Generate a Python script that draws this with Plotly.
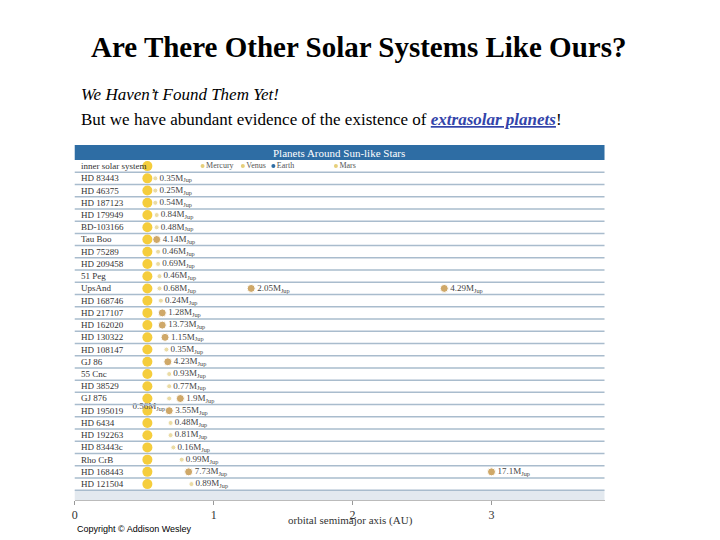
import plotly.graph_objects as go

stars = ["inner solar system","HD 83443","HD 46375","HD 187123","HD 179949","BD-103166","Tau Boo",
         "HD 75289","HD 209458","51 Peg","UpsAnd","HD 168746","HD 217107","HD 162020","HD 130322",
         "HD 108147","GJ 86","55 Cnc","HD 38529","GJ 876","HD 195019","HD 6434","HD 192263",
         "HD 83443c","Rho CrB","HD 168443","HD 121504"]
star_x = 0.523
p_row  = [1,2,3,4,5,6,7,8,9,10,10,10,11,12,13,14,15,16,17,18,19,19,20,21,22,23,24,25,25,26]
p_x    = [0.58,0.58,0.58,0.59,0.59,0.59,0.60,0.60,0.61,0.61,1.27,2.66,0.62,0.63,0.63,0.65,0.66,0.67,0.68,0.68,0.68,0.76,0.68,0.69,0.69,0.71,0.77,0.82,3.00,0.84]
p_mass = ["0.35","0.25","0.54","0.84","0.48","4.14","0.46","0.69","0.46","0.68","2.05","4.29","0.24","1.28",
          "13.73","1.15","0.35","4.23","0.93","0.77","0.56","1.9","3.55","0.48","0.81","0.16","0.99","7.73","17.1","0.89"]
p_heavy= [0,0,0,0,0,1,0,0,0,0,1,1,0,1,1,1,0,1,0,0,0,1,1,0,0,0,0,1,1,0]
inner_names = ["Mercury","Venus","Earth","Mars"]
inner_x = [0.92,1.21,1.43,1.88]
inner_col = ["#e6cf7a","#e6cf7a","#2e6da4","#e6cf7a"]
xticks = [0,1,2,3]

DX, DY = 11, 8
def px(x): return (x - DX) / 720
def py(y): return (540 - (y - DY)) / 540

fig = go.Figure()
n = len(stars)
for i in range(n):
    fig.add_shape(type="line", xref="paper", yref="y", x0=px(75), x1=px(607), y0=i+0.5, y1=i+0.5,
                  line=dict(color="#a9bccd", width=1.5))
fig.add_shape(type="rect", xref="paper", yref="y", x0=px(75), x1=px(607), y0=n-0.5, y1=n+0.3,
              fillcolor="#e3e9ef", line_width=0, layer="below")
fig.add_trace(go.Scatter(x=[star_x]*n, y=list(range(n)), mode="markers",
                         marker=dict(size=10, color="#f5cd3c"), hoverinfo="skip"))
fig.add_trace(go.Scatter(x=inner_x, y=[0]*4, mode="markers+text", text=inner_names, textposition="middle right",
                         marker=dict(size=4, color=inner_col), textfont=dict(family="Liberation Serif", size=8, color="#555")))
cols = ["#bb8429" if h else "#e2cc7e" for h in p_heavy]
sizes = [8 if h else 5 for h in p_heavy]
labels = [f"{m}M<sub>Jup</sub>" for m in p_mass]
pos = ["middle right"]*len(p_x)
pos[20] = "bottom left"
fig.add_trace(go.Scatter(x=p_x, y=p_row, mode="markers+text", text=labels, textposition=pos,
                         marker=dict(size=sizes, color=cols),
                         textfont=dict(family="Liberation Serif", size=9, color="#444")))
for i, s in enumerate(stars):
    fig.add_annotation(xref="paper", yref="y", x=px(79), y=i, text=s, showarrow=False,
                       xanchor="left", yanchor="middle", font=dict(family="Liberation Serif", size=9, color="#333"))
fig.add_shape(type="rect", xref="paper", yref="paper", x0=px(75), x1=px(607), y0=py(160), y1=py(145),
              fillcolor="#2e6da4", line_width=0)
fig.add_annotation(xref="paper", yref="paper", x=px(340), y=py(153), text="Planets Around Sun-like Stars",
                   xanchor="center", yanchor="middle",
                   showarrow=False, font=dict(family="Liberation Serif", size=11, color="white"))
fig.add_annotation(xref="paper", yref="paper", x=px(360), y=py(47), text="<b>Are There Other Solar Systems Like Ours?</b>",
                   xanchor="center", yanchor="middle",
                   showarrow=False, font=dict(family="Liberation Serif", size=29, color="black"))
fig.add_annotation(xref="paper", yref="paper", x=px(79), y=py(95), xanchor="left", yanchor="middle",
                   text="<i>We Haven’t Found Them Yet!</i>", showarrow=False,
                   font=dict(family="Liberation Serif", size=17, color="black"))
fig.add_annotation(xref="paper", yref="paper", x=px(79), y=py(119), xanchor="left", yanchor="middle",
                   text="But we have abundant evidence of the existence of <b><i><span style='color:#3344aa'><u>extrasolar planets</u></span></i></b>!",
                   showarrow=False, font=dict(family="Liberation Serif", size=17, color="black"))
fig.add_annotation(xref="paper", yref="paper", x=px(352), y=py(520), text="orbital semimajor axis (AU)",
                   xanchor="center", yanchor="middle",
                   showarrow=False, font=dict(family="Liberation Serif", size=11, color="#333"))
fig.add_annotation(xref="paper", yref="paper", x=px(75), y=py(529), xanchor="left", yanchor="middle",
                   text="Copyright © Addison Wesley",
                   showarrow=False, font=dict(family="Liberation Sans", size=9, color="black"))

xmax = (607-75)/139.5
fig.update_layout(width=720, height=540, margin=dict(l=0, r=0, t=0, b=0), showlegend=False,
                  plot_bgcolor="white", paper_bgcolor="white",
                  xaxis=dict(domain=[px(75), px(607)], range=[0, xmax], tickvals=xticks, showgrid=False, zeroline=False,
                             showline=True, linecolor="#bbb", ticks="outside", ticklen=4, tickcolor="#999",
                             tickfont=dict(family="Liberation Serif", size=12, color="#333")),
                  yaxis=dict(domain=[py(500), py(160)], range=[n+0.3, -0.5], visible=False))
fig.write_html("out.html")
